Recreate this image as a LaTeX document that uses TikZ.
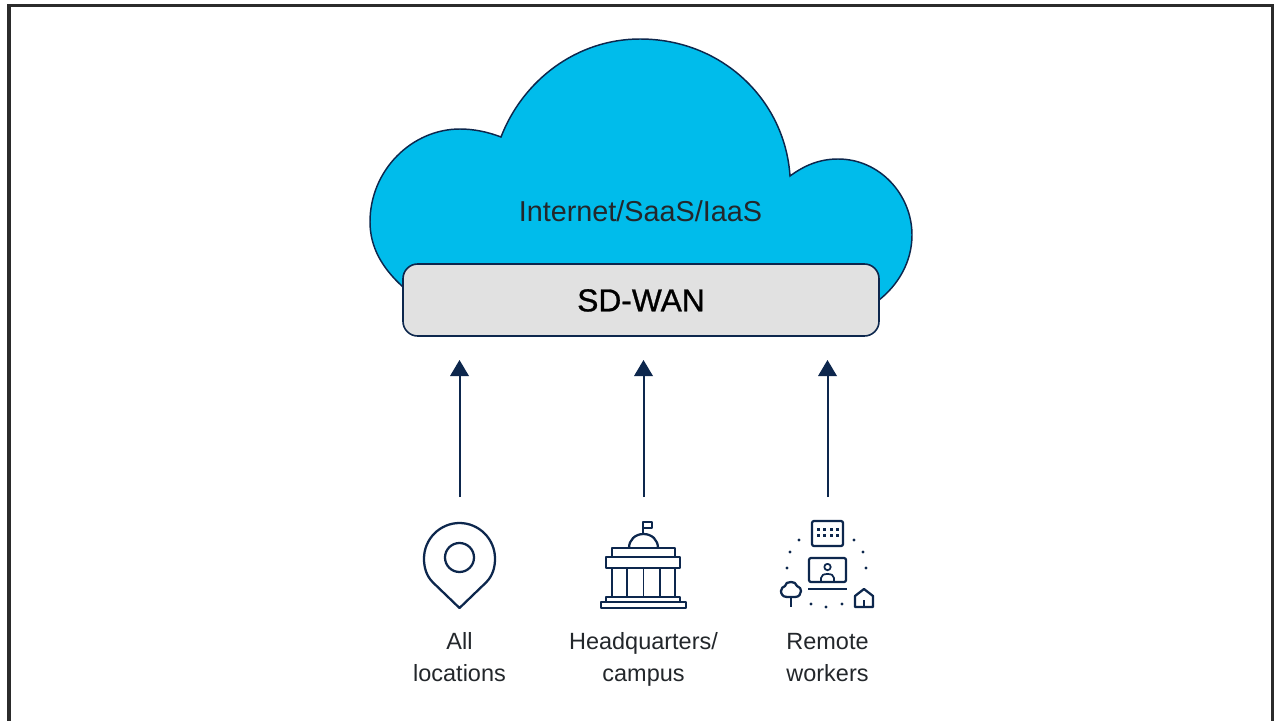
\documentclass[tikz,border=0pt]{standalone}
\usepackage{fontspec}
\setmainfont{Liberation Sans}
\newfontfamily\medfont[FakeBold=0.9]{Liberation Sans}
\definecolor{navy}{HTML}{0D274D}
\definecolor{cloudblue}{HTML}{00BCEB}
\definecolor{boxgrey}{HTML}{E1E1E1}
\definecolor{framegrey}{HTML}{2B2B2B}
\definecolor{txt}{HTML}{23272B}
\tikzset{
  icon/.style={draw=navy,line width=1.7pt,fill=none,line join=round},
  thinicon/.style={draw=navy,line width=1.3pt,fill=none,line join=round},
  dotmark/.style={fill=navy,draw=none},
  flow/.style={draw=navy,line width=1.5pt},
  head/.style={fill=navy,draw=none},
  caption/.style={align=center,text=txt,font=\fontsize{17.6}{24}\selectfont,inner sep=0pt,text height=37pt,text depth=0pt}
}
\begin{document}
\begin{tikzpicture}[x=0.75pt,y=-0.75pt]
\useasboundingbox (0,0) rectangle (1278,721);
\fill[white] (0,0) rectangle (1278,721);
\draw[framegrey,line width=2.3pt] (9,730) -- (9,5.3) -- (1272.5,5.3) -- (1272.5,730);
% cloud
\draw[fill=cloudblue,draw=navy,line width=1.1pt,line join=miter]
 (403,287) .. controls (382,268) and (370,247) .. (370,222)
 .. controls (370,170) and (412,129) .. (460,129)
 .. controls (474,129) and (488,132) .. (501,137)
 .. controls (523,80) and (577,39) .. (640,39)
 .. controls (722,39) and (785,100) .. (790,176)
 .. controls (805,165) and (820,159) .. (838,159)
 .. controls (880,159) and (912,195) .. (912,235)
 .. controls (912,262) and (898,285) .. (879,300) -- cycle;
\node[text=txt,font=\fontsize{21.6}{24}\selectfont,inner sep=0pt,anchor=base] (inet) at (640.5,221) {Internet/SaaS/IaaS};
\node[draw=navy,fill=boxgrey,line width=1.2pt,rounded corners=11pt,minimum width=357pt,minimum height=54pt,inner sep=0pt,text=black,text height=17pt,text depth=0pt,font=\medfont\fontsize{23.8}{24}\selectfont] (sdwan) at (641,300) {SD-WAN};
% arrows
\coordinate (a1s) at (459.5,497); \coordinate (a1e) at (459.5,376);
\coordinate (a2s) at (643.5,497); \coordinate (a2e) at (643.5,376);
\coordinate (a3s) at (827.5,497); \coordinate (a3e) at (827.5,376);
\draw[flow] (a1s) -- (a1e); \draw[flow] (a2s) -- (a2e); \draw[flow] (a3s) -- (a3e);
\fill[head] (a1e) ++(-9.5,0) -- ++(19,0) -- ++(-9.5,-16) -- cycle;
\fill[head] (a2e) ++(-9.5,0) -- ++(19,0) -- ++(-9.5,-16) -- cycle;
\fill[head] (a3e) ++(-9.5,0) -- ++(19,0) -- ++(-9.5,-16) -- cycle;
% pin
\draw[icon] (459.5,608) -- (433,582.5) .. controls (426,575.5) and (424,567) .. (424,558.5)
  .. controls (424,539) and (440,523) .. (459.5,523) .. controls (479,523) and (495,539) .. (495,558.5)
  .. controls (495,567) and (493,575.5) .. (486,582.5) -- cycle;
\draw[icon] (459.5,557.5) circle[radius=14.5];
% building
\draw[thinicon] (643,533) -- (643,522) -- (652,522) -- (652,528) -- (643,528);
\draw[icon] (629,548) .. controls (629,540) and (635,534) .. (643.5,534) .. controls (652,534) and (658,540) .. (658,548);
\draw[icon] (612,557) -- (612,548) -- (675,548) -- (675,557);
\draw[icon] (606,557) rectangle (680,568);
\draw[icon] (612,568) -- (612,597) (675,568) -- (675,597);
\draw[thinicon] (627,568) -- (627,597) (643.5,568) -- (643.5,597) (660,568) -- (660,597);
\draw[icon] (606,602) -- (606,597) -- (680,597) -- (680,602);
\draw[icon] (601,602) rectangle (686,608);
% remote
\draw[icon,rounded corners=1.5pt] (812,521) rectangle (843,546);
\foreach \dx in {818,824,831,837} \foreach \dy in {529,535} \fill[dotmark] (\dx-1.5,\dy-1.5) rectangle (\dx+1.5,\dy+1.5);
\draw[icon,rounded corners=1.5pt] (809,558) rectangle (846,582);
\draw[thinicon] (827.5,567) circle[radius=3.2];
\draw[thinicon] (821,582) -- (821,578) .. controls (821,575) and (824,574) .. (827.5,574) .. controls (831,574) and (834,575) .. (834,578) -- (834,582);
\draw[thinicon] (808,589) -- (847,589);
\foreach \px/\py in {799/540,790/552,787/568,854/540,863/552,866/568,811/604,826/607,842/604} \fill[dotmark] (\px,\py) circle[radius=1.7];
\draw[icon] (791,597) -- (791,607);
\draw[icon] (787,597) .. controls (782,597) and (781,593) .. (781,591) .. controls (781,588) and (783,587) .. (785,586)
  .. controls (785,583) and (788,582) .. (791,582) .. controls (794,582) and (796,583) .. (797,586)
  .. controls (800,587) and (801,589) .. (801,591) .. controls (801,594) and (799,597) .. (795,597) -- cycle;
\draw[icon] (855,596) -- (864,589) -- (873,596) -- (873,607) -- (855,607) -- cycle;
\draw[thinicon] (864,600) -- (864,607);
% captions
\node[caption] (c1) at (459.5,657) {All\\locations};
\node[caption] (c2) at (643.5,657) {Headquarters/\\campus};
\node[caption] (c3) at (827.5,657) {Remote\\workers};
\end{tikzpicture}
\end{document}
